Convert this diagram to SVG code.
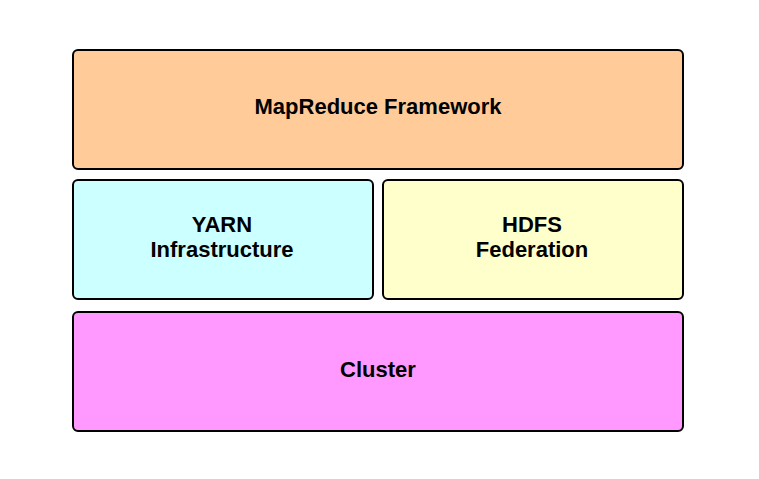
<svg xmlns="http://www.w3.org/2000/svg" width="759" height="479" viewBox="0 0 759 479">
<style>
.box{stroke:#000;stroke-width:2}
.lbl{font-family:"Liberation Sans",Arial,sans-serif;font-weight:bold;font-size:22px;fill:#000;text-anchor:middle}
</style>
<rect width="759" height="479" fill="#fff"/>
<g id="mapreduce">
<rect class="box" x="73" y="50" width="610" height="119" rx="5" fill="#FFCC99"/>
<text class="lbl" x="378" y="114">MapReduce Framework</text>
</g>
<g id="yarn">
<rect class="box" x="73" y="180" width="300" height="119" rx="5" fill="#CCFFFF"/>
<text class="lbl" x="222" y="232">YARN</text>
<text class="lbl" x="222" y="257">Infrastructure</text>
</g>
<g id="hdfs">
<rect class="box" x="383" y="180" width="300" height="119" rx="5" fill="#FFFFCC"/>
<text class="lbl" x="532" y="232">HDFS</text>
<text class="lbl" x="532" y="257">Federation</text>
</g>
<g id="cluster">
<rect class="box" x="73" y="312" width="610" height="119" rx="5" fill="#FF99FF"/>
<text class="lbl" x="378" y="377">Cluster</text>
</g>
<g id="connectors"></g>
</svg>
